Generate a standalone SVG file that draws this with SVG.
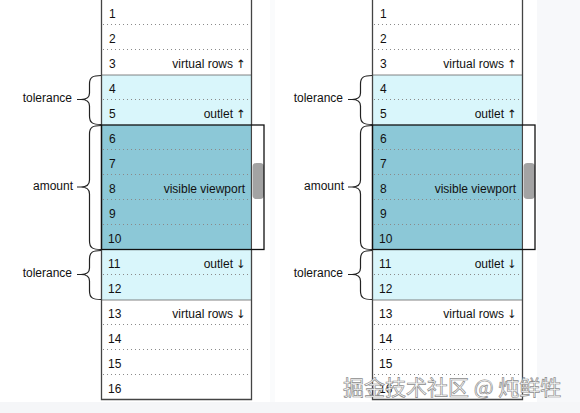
<svg xmlns="http://www.w3.org/2000/svg" width="580" height="413" viewBox="0 0 580 413">
<style>
text{font-family:"Liberation Sans",Arial,"DejaVu Sans",sans-serif;font-size:12px;fill:#111}
.r{text-anchor:end}
.lab{text-anchor:end}
.ar{font-family:"DejaVu Sans",sans-serif;font-size:11.5px}
.dot{stroke:#8a8a8a;stroke-width:1;stroke-dasharray:1 3}
.sep{stroke:#666;stroke-width:0.8}
.tol{fill:#d9f6fb}
.vp{fill:#8cc8d7}
.tbl{fill:none;stroke:#444;stroke-width:1.3}
.box{fill:none;stroke:#111;stroke-width:1.3}
.thumb{fill:#a3a3a3}
.brace{fill:none;stroke:#222;stroke-width:1.2}
.wm{font-family:"Noto Sans CJK SC","Noto Sans",sans-serif;font-size:21px;fill:#fff;stroke:#8c8c8c;stroke-width:0.7}
</style>
<rect x="0" y="0" width="580" height="413" fill="#ffffff"/>
<rect x="270" y="0" width="5" height="402" fill="#fafbfc"/>
<rect x="537" y="0" width="43" height="402" fill="#f7f8fa"/>
<rect x="0" y="402" width="580" height="11" fill="#f5f6f8"/>

<g id="panel-left">
  <g id="L-fills">
    <rect class="tol" x="101.5" y="75" width="150" height="50"/>
    <rect class="vp" x="101.5" y="125" width="150" height="125"/>
    <rect class="tol" x="101.5" y="250" width="150" height="50"/>
  </g>
  <g id="L-rowlines">
    <line class="dot" x1="103" y1="24.5" x2="251" y2="24.5"/>
    <line class="dot" x1="103" y1="49.5" x2="251" y2="49.5"/>
    <line class="sep" x1="101.5" y1="75" x2="251.5" y2="75"/>
    <line class="dot" x1="103" y1="99.5" x2="251" y2="99.5"/>
    <line class="dot" x1="103" y1="149.5" x2="251" y2="149.5"/>
    <line class="dot" x1="103" y1="174.5" x2="251" y2="174.5"/>
    <line class="dot" x1="103" y1="199.5" x2="251" y2="199.5"/>
    <line class="dot" x1="103" y1="224.5" x2="251" y2="224.5"/>
    <line class="dot" x1="103" y1="274.5" x2="251" y2="274.5"/>
    <line class="sep" x1="101.5" y1="300" x2="251.5" y2="300"/>
    <line class="dot" x1="103" y1="324.5" x2="251" y2="324.5"/>
    <line class="dot" x1="103" y1="349.5" x2="251" y2="349.5"/>
    <line class="dot" x1="103" y1="374.5" x2="251" y2="374.5"/>
  </g>
  <g id="L-row1"><text x="109" y="17.5">1</text></g>
  <g id="L-row2"><text x="109" y="42.5">2</text></g>
  <g id="L-row3"><text x="109" y="67.5">3</text><text class="r" x="246" y="67.5">virtual rows <tspan class="ar">↑</tspan></text></g>
  <g id="L-row4"><text x="109" y="92.5">4</text></g>
  <g id="L-row5"><text x="109" y="117.5">5</text><text class="r" x="246" y="117.5">outlet <tspan class="ar">↑</tspan></text></g>
  <g id="L-row6"><text x="109" y="142.5">6</text></g>
  <g id="L-row7"><text x="109" y="167.5">7</text></g>
  <g id="L-row8"><text x="109" y="192.5">8</text><text class="r" x="245" y="192.5">visible viewport</text></g>
  <g id="L-row9"><text x="109" y="217.5">9</text></g>
  <g id="L-row10"><text x="108" y="242.5">10</text></g>
  <g id="L-row11"><text x="108" y="267.5">11</text><text class="r" x="246" y="267.5">outlet <tspan class="ar">↓</tspan></text></g>
  <g id="L-row12"><text x="108" y="292.5">12</text></g>
  <g id="L-row13"><text x="108" y="317.5">13</text><text class="r" x="246" y="317.5">virtual rows <tspan class="ar">↓</tspan></text></g>
  <g id="L-row14"><text x="108" y="342.5">14</text></g>
  <g id="L-row15"><text x="108" y="367.5">15</text></g>
  <g id="L-row16"><text x="108" y="392.5">16</text></g>
  <g id="L-table"><path class="tbl" d="M101.5,-1 L101.5,399.5 L251.5,399.5 L251.5,-1"/></g>
  <g id="L-viewport">
    <rect x="252.2" y="125.6" width="11.6" height="123.8" fill="#ffffff"/>
    <rect class="thumb" x="252.5" y="163" width="11.5" height="36" rx="4"/>
    <rect class="box" x="101.5" y="125" width="162.5" height="124.5"/>
  </g>
  <g id="L-tolerance-top"><text class="lab" x="72" y="102">tolerance</text></g>
  <g id="L-amount"><text class="lab" x="73" y="190">amount</text></g>
  <g id="L-tolerance-bottom"><text class="lab" x="72" y="277">tolerance</text></g>
</g>

<g id="panel-right">
  <g id="R-fills">
    <rect class="tol" x="372.5" y="75" width="150" height="50"/>
    <rect class="vp" x="372.5" y="125" width="150" height="125"/>
    <rect class="tol" x="372.5" y="250" width="150" height="50"/>
  </g>
  <g id="R-rowlines">
    <line class="dot" x1="374" y1="24.5" x2="522" y2="24.5"/>
    <line class="dot" x1="374" y1="49.5" x2="522" y2="49.5"/>
    <line class="sep" x1="372.5" y1="75" x2="522.5" y2="75"/>
    <line class="dot" x1="374" y1="99.5" x2="522" y2="99.5"/>
    <line class="dot" x1="374" y1="149.5" x2="522" y2="149.5"/>
    <line class="dot" x1="374" y1="174.5" x2="522" y2="174.5"/>
    <line class="dot" x1="374" y1="199.5" x2="522" y2="199.5"/>
    <line class="dot" x1="374" y1="224.5" x2="522" y2="224.5"/>
    <line class="dot" x1="374" y1="274.5" x2="522" y2="274.5"/>
    <line class="sep" x1="372.5" y1="300" x2="522.5" y2="300"/>
    <line class="dot" x1="374" y1="324.5" x2="522" y2="324.5"/>
    <line class="dot" x1="374" y1="349.5" x2="522" y2="349.5"/>
    <line class="dot" x1="374" y1="374.5" x2="522" y2="374.5"/>
  </g>
  <g id="R-row1"><text x="380" y="17.5">1</text></g>
  <g id="R-row2"><text x="380" y="42.5">2</text></g>
  <g id="R-row3"><text x="380" y="67.5">3</text><text class="r" x="517" y="67.5">virtual rows <tspan class="ar">↑</tspan></text></g>
  <g id="R-row4"><text x="380" y="92.5">4</text></g>
  <g id="R-row5"><text x="380" y="117.5">5</text><text class="r" x="517" y="117.5">outlet <tspan class="ar">↑</tspan></text></g>
  <g id="R-row6"><text x="380" y="142.5">6</text></g>
  <g id="R-row7"><text x="380" y="167.5">7</text></g>
  <g id="R-row8"><text x="380" y="192.5">8</text><text class="r" x="516" y="192.5">visible viewport</text></g>
  <g id="R-row9"><text x="380" y="217.5">9</text></g>
  <g id="R-row10"><text x="379" y="242.5">10</text></g>
  <g id="R-row11"><text x="379" y="267.5">11</text><text class="r" x="517" y="267.5">outlet <tspan class="ar">↓</tspan></text></g>
  <g id="R-row12"><text x="379" y="292.5">12</text></g>
  <g id="R-row13"><text x="379" y="317.5">13</text><text class="r" x="517" y="317.5">virtual rows <tspan class="ar">↓</tspan></text></g>
  <g id="R-row14"><text x="379" y="342.5">14</text></g>
  <g id="R-row15"><text x="379" y="367.5">15</text></g>
  <g id="R-row16"><text x="379" y="392.5">16</text></g>
  <g id="R-table"><path class="tbl" d="M372.5,-1 L372.5,399.5 L522.5,399.5 L522.5,-1"/></g>
  <g id="R-viewport">
    <rect x="523.2" y="125.6" width="11.6" height="123.8" fill="#ffffff"/>
    <rect class="thumb" x="523.5" y="163" width="11.5" height="36" rx="4"/>
    <rect class="box" x="372.5" y="125" width="162.5" height="124.5"/>
  </g>
  <g id="R-tolerance-top"><text class="lab" x="343" y="102">tolerance</text></g>
  <g id="R-amount"><text class="lab" x="344" y="190">amount</text></g>
  <g id="R-tolerance-bottom"><text class="lab" x="343" y="277">tolerance</text></g>
</g>

<g id="connectors">
  <path class="brace" d="M101,75.5 C93,75.5 89.5,77 89.5,84 L89.5,93 C89.5,97.5 87,99.5 81,99.5 L77,99.5 M81,99.5 C87,99.5 89.5,101.5 89.5,106 L89.5,116 C89.5,123 93,124.5 101,124.5"/>
  <path class="brace" d="M101,125.5 C93,125.5 89.5,127 89.5,134 L89.5,180 C89.5,184.5 87,187 81,187 L77,187 M81,187 C87,187 89.5,189.5 89.5,194 L89.5,241 C89.5,248 93,249.5 101,249.5"/>
  <path class="brace" d="M101,250.5 C93,250.5 89.5,252 89.5,259 L89.5,268 C89.5,272.5 87,274.5 81,274.5 L77,274.5 M81,274.5 C87,274.5 89.5,276.5 89.5,281 L89.5,291 C89.5,298 93,299.5 101,299.5"/>
  <path class="brace" d="M372,75.5 C364,75.5 360.5,77 360.5,84 L360.5,93 C360.5,97.5 358,99.5 352,99.5 L348,99.5 M352,99.5 C358,99.5 360.5,101.5 360.5,106 L360.5,116 C360.5,123 364,124.5 372,124.5"/>
  <path class="brace" d="M372,125.5 C364,125.5 360.5,127 360.5,134 L360.5,180 C360.5,184.5 358,187 352,187 L348,187 M352,187 C358,187 360.5,189.5 360.5,194 L360.5,241 C360.5,248 364,249.5 372,249.5"/>
  <path class="brace" d="M372,250.5 C364,250.5 360.5,252 360.5,259 L360.5,268 C360.5,272.5 358,274.5 352,274.5 L348,274.5 M352,274.5 C358,274.5 360.5,276.5 360.5,281 L360.5,291 C360.5,298 364,299.5 372,299.5"/>
</g>

<text class="wm" x="343" y="395">掘金技术社区 @ 炖鲜牲</text>
</svg>
